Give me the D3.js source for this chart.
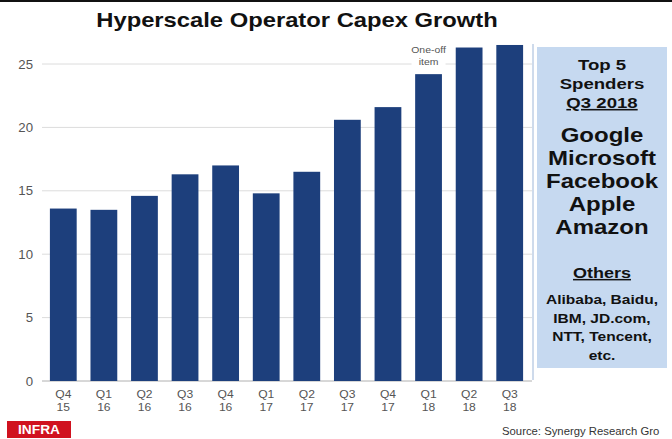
<!DOCTYPE html>
<html><head><meta charset="utf-8">
<script src="https://cdn.jsdelivr.net/npm/d3@7"></script>
<style>body{margin:0;background:#fff}svg{display:block;font-family:"Liberation Sans",Arial,sans-serif}</style>
</head><body>
<svg id="c" width="672" height="439"></svg>
<script>
const quarters = ["Q4","Q1","Q2","Q3","Q4","Q1","Q2","Q3","Q4","Q1","Q2","Q3"];
const years = ["15","16","16","16","16","17","17","17","17","18","18","18"];
const capex = [13.6,13.5,14.6,16.3,17.0,14.8,16.5,20.6,21.6,24.2,26.3,26.5];
const yTicks = [0,5,10,15,20,25];
const topSpenders = ["Google","Microsoft","Facebook","Apple","Amazon"];
const others = ["Alibaba, Baidu,","IBM, JD.com,","NTT, Tencent,","etc."];

const svg = d3.select("#c");
const labels = quarters.map((q,i)=>q+" "+years[i]+"#"+i);
const x = d3.scaleBand().domain(labels).range([43,530]).paddingInner(0.34).paddingOuter(0.17);
const y = d3.scaleLinear().domain([0,25]).range([381,64]);

function txt(px,py,s,o){
  o=o||{};
  const t = svg.append("text")
    .attr("transform",`translate(${px},${py}) scale(${o.sx||1.13},1)`)
    .attr("text-anchor",o.anchor||"middle")
    .attr("font-size",o.size||12)
    .attr("font-weight",o.bold?"bold":null)
    .attr("fill",o.fill||"#111")
    .text(s);
  if(o.underline) t.attr("text-decoration","underline");
  return t;
}

svg.append("rect").attr("x",0).attr("y",0).attr("width",672).attr("height",2).attr("fill","#111");

txt(297,27,"Hyperscale Operator Capex Growth",{size:20.5,bold:true,sx:1.16});

// grid
svg.selectAll(".g").data(yTicks.filter(d=>d>0)).join("line")
  .attr("x1",42).attr("x2",532).attr("y1",d=>y(d)).attr("y2",d=>y(d))
  .attr("stroke","#dcdcdc").attr("stroke-width",1);
svg.append("line").attr("x1",42).attr("x2",532).attr("y1",y(0)).attr("y2",y(0)).attr("stroke","#b0b0b0");

// y labels
yTicks.forEach(d=>txt(33,y(d)+4.5,d,{anchor:"end",size:12,fill:"#555",sx:1.1}));

// bars
svg.selectAll(".b").data(capex).join("rect")
  .attr("x",(d,i)=>x(labels[i])).attr("width",x.bandwidth())
  .attr("y",d=>y(d)).attr("height",d=>y(0)-y(d)).attr("fill","#1d3f7c");

// x labels
labels.forEach((d,i)=>{
  const cx = x(d)+x.bandwidth()/2;
  txt(cx,398,quarters[i],{size:11,fill:"#555",sx:1.1});
  txt(cx,411,years[i],{size:11,fill:"#555",sx:1.1});
});

// one-off label
const ox = x(labels[9])+x.bandwidth()/2;
svg.append("rect").attr("x",ox-17).attr("y",43).attr("width",34).attr("height",28).attr("fill","#fff");
txt(ox,53,"One-off",{size:9.5,fill:"#555",sx:1.1});
txt(ox,65,"item",{size:9.5,fill:"#555",sx:1.1});

// side box
svg.append("rect").attr("x",537).attr("y",47).attr("width",130).attr("height",321).attr("fill","#c6d9f0");
svg.append("line").attr("x1",533).attr("x2",533).attr("y1",44).attr("y2",380).attr("stroke","#9db6d8").attr("stroke-width",1);
const cx = 602;
txt(cx,70,"Top 5",{size:15.5,bold:true,sx:1.2});
txt(cx,89,"Spenders",{size:15.5,bold:true,sx:1.2});
txt(cx,108,"Q3 2018",{size:15.5,bold:true,sx:1.2,underline:true});
topSpenders.forEach((d,i)=>txt(cx,142+i*23,d,{size:20,bold:true,sx:1.2}));
txt(cx,278,"Others",{size:15,bold:true,sx:1.2,underline:true});
others.forEach((d,i)=>txt(cx,304+i*18.5,d,{size:13.5,bold:true,sx:1.15}));

// footer
svg.append("rect").attr("x",7).attr("y",421).attr("width",64).attr("height",17).attr("fill","#d0121f");
txt(39,434,"INFRA",{size:12.5,bold:true,fill:"#fff",sx:1.1});
txt(502,435,"Source: Synergy Research Gro",{anchor:"start",size:11,fill:"#333",sx:1.03});
</script>
</body></html>
